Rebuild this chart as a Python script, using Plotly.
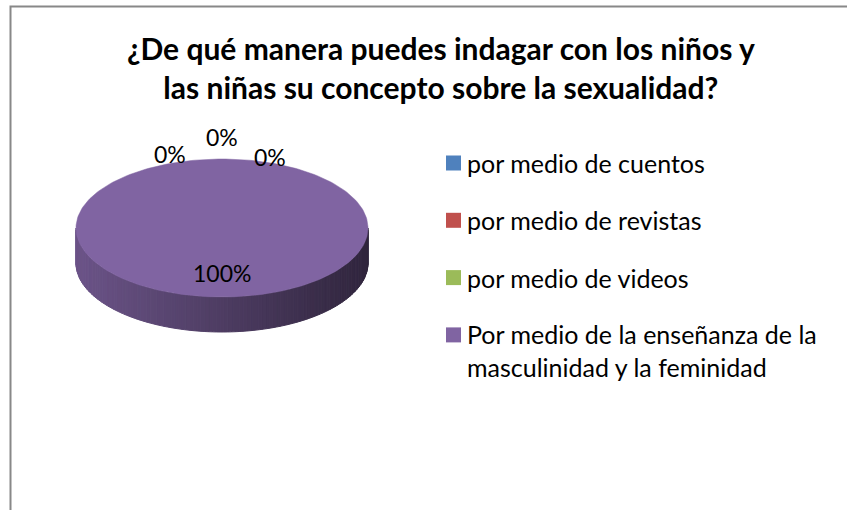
import math
import plotly.graph_objects as go

# ---- data ----
categories = [
    "por medio de cuentos",
    "por medio de revistas",
    "por medio de videos",
    "Por medio de la enseñanza de la<br>masculinidad y la feminidad",
]
values = [0, 0, 0, 100]
colors = ["#4F81BD", "#C0504D", "#9BBB59", "#8064A2"]
title_text = "¿De qué manera puedes indagar con los niños y<br>las niñas su concepto sobre la sexualidad?"

W, H = 847, 510
# pie geometry (pixels)
CX, CY, RX, RY, DEPTH = 222, 228, 146, 69, 35
FONT = "Lato"


def hex2rgb(h):
    h = h.lstrip("#")
    return tuple(int(h[i:i + 2], 16) for i in (0, 2, 4))


def shade(h, f):
    r, g, b = hex2rgb(h)
    return f"rgb({int(r * f)},{int(g * f)},{int(b * f)})"


def pt(theta, dy=0.0, k=1.0):
    return CX + k * RX * math.sin(theta), CY - k * RY * math.cos(theta) + dy


total = sum(values)
bounds = []
acc = 0.0
for v in values:
    a0 = acc / total * 2 * math.pi
    acc += v
    a1 = acc / total * 2 * math.pi
    bounds.append((a0, a1))

fig = go.Figure()

# ---- side wall (front half only), strips shaded by x ----
N = 120
for i, (v, c) in enumerate(zip(values, colors)):
    if v <= 0:
        continue
    a0, a1 = bounds[i]
    lo, hi = max(a0, math.pi / 2), min(a1, 3 * math.pi / 2)
    if hi <= lo:
        continue
    steps = max(2, int(N * (hi - lo) / math.pi))
    for s in range(steps):
        t0 = lo + (hi - lo) * s / steps
        t1 = lo + (hi - lo) * (s + 1) / steps
        x0, y0 = pt(t0)
        x1, y1 = pt(t1)
        xm = (x0 + x1) / 2
        u = (xm - (CX - RX)) / (2 * RX)  # 0 left .. 1 right
        f = 0.84 - 0.46 * u
        col = shade(c, f)
        fig.add_trace(go.Scatter(
            x=[x0, x1, x1, x0, x0], y=[y0, y1, y1 + DEPTH, y0 + DEPTH, y0],
            mode="lines", fill="toself", fillcolor=col,
            line=dict(color=col, width=1), hoverinfo="skip", showlegend=False))

# ---- top faces ----
for i, (v, c) in enumerate(zip(values, colors)):
    if v <= 0:
        continue
    a0, a1 = bounds[i]
    steps = max(2, int(240 * (a1 - a0) / (2 * math.pi)))
    xs, ys = [CX], [CY]
    for s in range(steps + 1):
        x, y = pt(a0 + (a1 - a0) * s / steps)
        xs.append(x)
        ys.append(y)
    xs.append(CX)
    ys.append(CY)
    fig.add_trace(go.Scatter(x=xs, y=ys, mode="lines", fill="toself", fillcolor=c,
                             line=dict(color=c, width=0.5), hoverinfo="skip", showlegend=False))

# ---- data labels ----
zero_offsets = {0: (-52, 17), 1: (0, 0), 2: (48, 20)}
for i, v in enumerate(values):
    a0, a1 = bounds[i]
    mid = (a0 + a1) / 2
    pct = f"{round(v / total * 100)}%"
    if v > 0:
        x, y = pt(mid, k=0.65)
    else:
        x, y = pt(mid, k=1.32)
        dx, dy = zero_offsets.get(i, (0, 0))
        x += dx
        y += dy
    fig.add_annotation(x=x, y=y, text=pct, showarrow=False,
                       font=dict(family=FONT, size=23, color="#000000"))

# ---- legend (manual, for exact placement) ----
LEG_MARK_X, LEG_TEXT_X = 453.5, 465
LEG_Y0, LEG_DY, LINE_H = 163, 57.3, 32
fig.add_trace(go.Scatter(
    x=[LEG_MARK_X] * len(categories),
    y=[LEG_Y0 + i * LEG_DY for i in range(len(categories))],
    mode="markers", marker=dict(symbol="square", size=15, color=colors,
                                line=dict(width=0)),
    hoverinfo="skip", showlegend=False))
for i, name in enumerate(categories):
    nlines = name.count("<br>") + 1
    fig.add_annotation(x=LEG_TEXT_X, y=LEG_Y0 + i * LEG_DY + (nlines - 1) * LINE_H / 2,
                       text=name, showarrow=False, xanchor="left", yanchor="middle",
                       align="left", font=dict(family=FONT, size=25, color="#000000"))

fig.add_annotation(x=441, y=67, text=title_text, showarrow=False,
                   font=dict(family=FONT, size=30, color="#000000", weight="bold"),
                   align="center")

fig.add_shape(type="rect", x0=10.5, y0=6.5, x1=W + 20, y1=H + 20,
              line=dict(color="#888888", width=2), fillcolor="rgba(0,0,0,0)")

fig.update_layout(
    width=W, height=H,
    margin=dict(l=0, r=0, t=0, b=0),
    paper_bgcolor="white", plot_bgcolor="white",
    xaxis=dict(range=[0, W], visible=False, fixedrange=True),
    yaxis=dict(range=[H, 0], visible=False, fixedrange=True),
    showlegend=False,
    hovermode=False,
)

fig.write_html("out.html", config={"displayModeBar": False},
               post_script="document.body.style.margin='0';")
